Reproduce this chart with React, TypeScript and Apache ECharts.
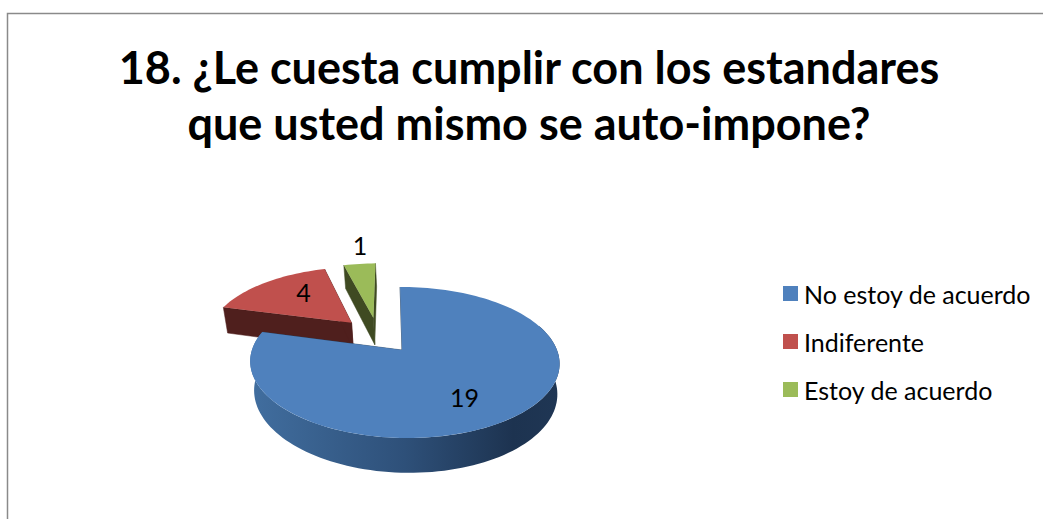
import React, { useEffect, useRef } from "react";
import * as echarts from "echarts";

const titleText = "18. ¿Le cuesta cumplir con los estandares\nque usted mismo se auto-impone?";
const categories = ["No estoy de acuerdo", "Indiferente", "Estoy de acuerdo"];
const values = [19, 4, 1];

const topColors = ["#4F81BD", "#C0504D", "#9BBB59"];
const cutColors = ["#24405F", "#4F1F1D", "#3F4A22"];
const seriesZ = [4, 3, 2];
const slicesExplode = 0.265;
const labelOffsets = [[0.36, -0.58], [-0.39, 0.52], [-0.14, 1.42]];

// perspective of the pie plane
const CX = 402, CY = 350, R = 152.5, A = 73.4, P = 0.166, Q = -0.016, H = 29, SKEW = 0.03, LOWER = 0.98;
const FONT = "Lato";

function proj(u: number, v: number, lower = false): number[] {
  const d = 1 + P * v + Q * u;
  let sx = (R * u) / d;
  let sy = (-A * v) / d;
  if (lower) {
    sx *= LOWER;
    sy += H / d;
  }
  return [CX + sx + SKEW * sy, CY + sy];
}

const total = values.reduce((a, b) => a + b, 0);
const rad = (deg: number) => (deg * Math.PI) / 180;

function sliceInfo(i: number) {
  const before = values.slice(0, i).reduce((a, b) => a + b, 0);
  const start = (before / total) * 360;
  const end = ((before + values[i]) / total) * 360;
  const mid = (start + end) / 2;
  const ref = (values[0] / total) * 180; // middle of the first slice
  // every slice moves along its bisector; origin is the first slice's tip
  const ox = slicesExplode * (Math.sin(rad(mid)) - Math.sin(rad(ref)));
  const oy = slicesExplode * (Math.cos(rad(mid)) - Math.cos(rad(ref)));
  return { start, end, ox, oy };
}

function rim(ox: number, oy: number, a0: number, a1: number, lower = false) {
  const pts: number[][] = [];
  const n = Math.max(2, Math.ceil(Math.abs(a1 - a0) / 2));
  for (let k = 0; k <= n; k++) {
    const a = a0 + ((a1 - a0) * k) / n;
    pts.push(proj(ox + Math.sin(rad(a)), oy + Math.cos(rad(a)), lower));
  }
  return pts;
}

function makeRender(i: number) {
  return (_params: any, api: any) => {
    const { start, end, ox, oy } = sliceInfo(i);
    const children: any[] = [];
    const sideFill = new echarts.graphic.LinearGradient(0, 0, 1, 0, [
      { offset: 0, color: "#416E9F" },
      { offset: 0.5, color: "#2E5079" },
      { offset: 0.85, color: "#1D3350" },
      { offset: 1, color: "#1F3654" },
    ]);
    // outer wall, only where it faces the viewer
    const wallFrom = Math.max(start, 70);
    const wallTo = Math.min(end, 285);
    if (wallTo > wallFrom) {
      const up = rim(ox, oy, wallFrom, wallTo);
      const low = rim(ox, oy, wallFrom, wallTo, true).reverse();
      children.push({ type: "polygon", shape: { points: up.concat(low) }, style: { fill: sideFill } });
    }
    // cut faces at both radial edges
    for (const a of [start, end]) {
      const apexU = proj(ox, oy);
      const apexL = proj(ox, oy, true);
      const outU = proj(ox + Math.sin(rad(a)), oy + Math.cos(rad(a)));
      const outL = proj(ox + Math.sin(rad(a)), oy + Math.cos(rad(a)), true);
      children.push({
        type: "polygon",
        shape: { points: [apexU, outU, outL, apexL] },
        style: { fill: cutColors[i], stroke: cutColors[i], lineWidth: 0.5 },
      });
    }
    // top face
    const top = [proj(ox, oy)].concat(rim(ox, oy, start, end));
    children.push({ type: "polygon", shape: { points: top }, style: { fill: topColors[i] } });
    // value label
    const lp = proj(ox + labelOffsets[i][0], oy + labelOffsets[i][1]);
    children.push({
      type: "text",
      style: {
        text: String(api.value(0)),
        x: lp[0],
        y: lp[1],
        fill: "#000",
        font: `25px ${FONT}`,
        align: "center",
        verticalAlign: "middle",
      },
    });
    return { type: "group", children };
  };
}

export default function App() {
  const ref = useRef<HTMLDivElement>(null);
  useEffect(() => {
    document.body.style.margin = "0";
    const chart = echarts.init(ref.current!, null, { renderer: "svg" });
    chart.setOption({
      animation: false,
      backgroundColor: "#fff",
      title: {
        text: titleText,
        left: 524,
        top: 34,
        textAlign: "center",
        textStyle: { fontFamily: FONT, fontWeight: "bold", fontSize: 45, lineHeight: 56, color: "#000" },
      },
      legend: {
        orient: "vertical",
        left: 778,
        top: 276,
        data: categories,
        icon: "rect",
        itemWidth: 15,
        itemHeight: 15,
        itemGap: 23,
        textStyle: { fontFamily: FONT, fontSize: 25, color: "#000", padding: [0, 0, 0, 1] },
      },
      graphic: [
        {
          type: "polyline",
          silent: true,
          shape: { points: [[7.5, 519], [7.5, 13.5], [1043, 13.5]] },
          style: { stroke: "#8A8A8A", lineWidth: 1.5, fill: "none" },
        },
      ],
      series: categories.map((name, i) => ({
        type: "custom",
        name,
        coordinateSystem: "none",
        silent: true,
        z: seriesZ[i],
        itemStyle: { color: topColors[i] },
        data: [values[i]],
        renderItem: makeRender(i),
      })),
    });
    return () => chart.dispose();
  }, []);
  return <div ref={ref} style={{ position: "absolute", left: 0, top: 0, width: 1043, height: 519 }} />;
}
